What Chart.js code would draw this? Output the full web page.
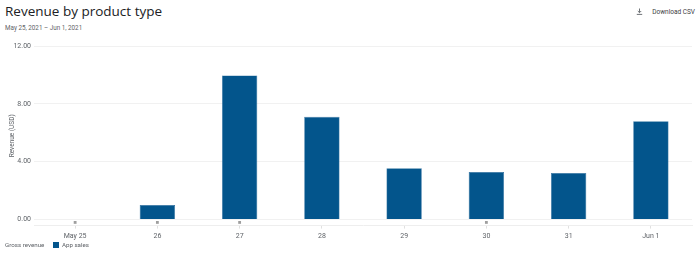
<!DOCTYPE html>
<html>
<head>
<meta charset="utf-8">
<script src="https://cdn.jsdelivr.net/npm/chart.js@4/dist/chart.umd.min.js"></script>
<style>
  html, body { margin: 0; padding: 0; background: #fff; }
  body { width: 700px; height: 254px; position: relative; overflow: hidden; font-family: Roboto, "Noto Sans", sans-serif; }
  #title { position: absolute; left: 5px; top: 2px; font-size: 13.5px; color: #202124; font-family: "Open Sans", Roboto, sans-serif; }
  #sub { position: absolute; left: 5px; top: 24px; font-size: 6.3px; color: #5f6368; }
  #dl { position: absolute; right: 5px; top: 8px; font-size: 6.5px; color: #3c4043; }
  #dl svg { vertical-align: -1px; margin-right: 9px; }
  #legend { position: absolute; left: 5px; top: 241px; font-size: 6.2px; color: #5f6368; }
  #legend i { display: inline-block; width: 6px; height: 6px; background: #03558c; margin: 0 3px 0 7px; vertical-align: -1px; }
  #wrap { position: absolute; left: 0; top: 0; width: 700px; height: 254px; }
</style>
</head>
<body>
<div id="title">Revenue by product type</div>
<div id="sub">May 25, 2021 – Jun 1, 2021</div>
<div id="dl"><svg width="7" height="7" viewBox="0 0 7 7"><path d="M3.5 0.5 V4.5 M1.8 3 L3.5 4.7 L5.2 3 M0.8 6.4 H6.2" stroke="#5f6368" stroke-width="0.9" fill="none"/></svg>Download CSV</div>
<div id="wrap"><canvas id="chart"></canvas></div>
<div id="legend">Gross revenue <i></i>App sales</div>
<script>
var days = ['May 25', '26', '27', '28', '29', '30', '31', 'Jun 1'];
var appSales = [0, 1.00, 9.96, 7.10, 3.55, 3.28, 3.22, 6.80];
var noteMarks = [-0.2, -0.2, -0.2, null, null, -0.2, null, null];
var yTicks = [0, 4, 8, 12];

function make_chart() {
    var ctx = document.getElementById('chart');

    const data = {
        labels: days,
        datasets: [{
            type: 'line',
            label: 'notes',
            data: noteMarks,
            showLine: false,
            pointStyle: 'rect',
            pointRadius: 2,
            pointBackgroundColor: '#9e9e9e',
            pointBorderWidth: 0,
            clip: false
        }, {
            type: 'bar',
            label: 'App sales',
            data: appSales,
            backgroundColor: '#03558c',
            borderColor: '#2f6f9e',
            borderWidth: 0.6,
            barPercentage: 0.43,
            categoryPercentage: 1.0
        }]
    };

    const config = {
        type: 'bar',
        data: data,
        options: {
            responsive: true,
            maintainAspectRatio: false,
            animation: false,
            layout: {
                padding: { top: 46, left: 6, right: 8, bottom: 11 }
            },
            plugins: {
                legend: { display: false },
                tooltip: { enabled: false }
            },
            scales: {
                x: {
                    grid: {
                        offset: false,
                        drawOnChartArea: false,
                        tickLength: 3,
                        color: '#e0e0e0'
                    },
                    border: { color: '#eeeeee' },
                    ticks: {
                        font: { family: 'Roboto', size: 7 },
                        color: '#5f6368',
                        padding: 3
                    }
                },
                y: {
                    min: -0.42,
                    max: 12,
                    afterBuildTicks: function (axis) {
                        axis.ticks = yTicks.map(v => ({ value: v }));
                    },
                    afterFit: function (axis) {
                        axis.width = 28;
                    },
                    grid: {
                        color: '#f1f1f1',
                        drawTicks: false
                    },
                    border: { display: false },
                    ticks: {
                        font: { family: 'Roboto', size: 7 },
                        color: '#5f6368',
                        padding: 3,
                        callback: v => v.toFixed(2)
                    },
                    title: {
                        display: true,
                        text: 'Revenue (USD)',
                        font: { family: 'Roboto', size: 6.5 },
                        color: '#5f6368',
                        padding: { top: 2, bottom: 0 }
                    }
                }
            }
        }
    };

    new Chart(ctx, config);
}

make_chart();
</script>
</body>
</html>
